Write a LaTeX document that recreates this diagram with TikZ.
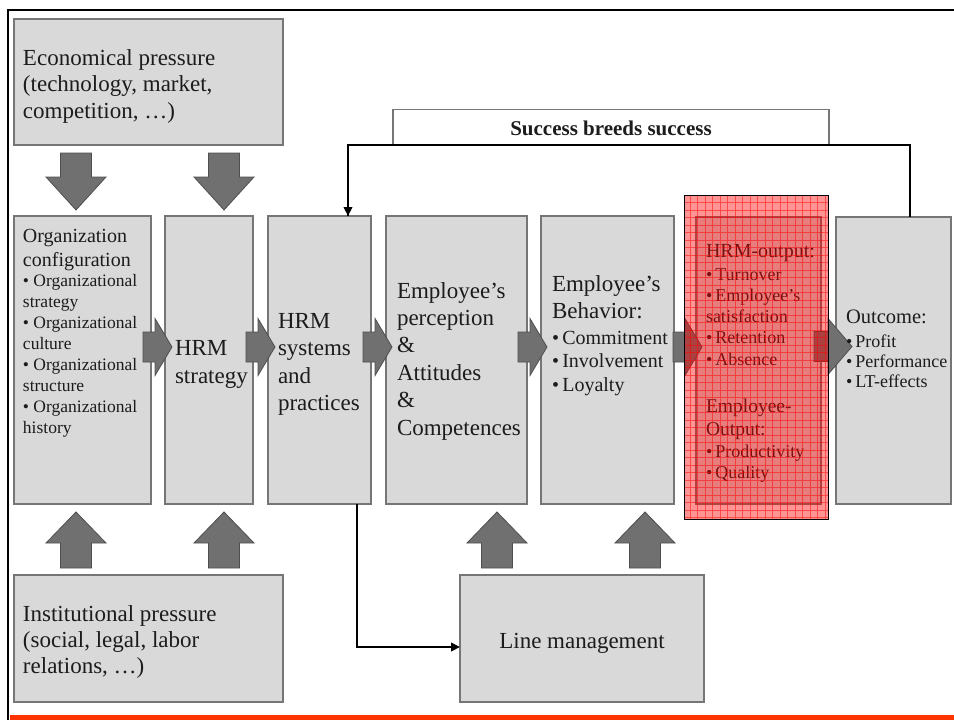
\documentclass[tikz,border=0pt]{standalone}
\usepackage{fontspec}
\setmainfont{Liberation Serif}
\usetikzlibrary{arrows.meta}
\definecolor{boxfill}{RGB}{217,217,217}
\definecolor{boxline}{RGB}{118,118,118}
\definecolor{arrfill}{RGB}{112,112,112}
\definecolor{arrline}{RGB}{78,78,78}
\definecolor{txt}{RGB}{28,28,28}
\definecolor{barorange}{RGB}{255,51,0}
\tikzset{
  rarr/.pic={\path[blk] (0,-15) -- (12,-15) -- (12,-28.5) -- (29,0) -- (12,28.5) -- (12,15) -- (0,15) -- cycle;},
  rarrb/.pic={\path[blk] (0,-15) -- (14,-15) -- (14,-28) -- (38,0) -- (14,28) -- (14,15) -- (0,15) -- cycle;},
  darr/.pic={\path[blk] (-15.5,0) -- (15.5,0) -- (15.5,24) -- (30,24) -- (0,57) -- (-30,24) -- (-15.5,24) -- cycle;},
  uarr/.pic={\path[blk] (-15.5,0) -- (15.5,0) -- (15.5,-25) -- (30,-25) -- (0,-56) -- (-30,-25) -- (-15.5,-25) -- cycle;}
}
\begin{document}
\begin{tikzpicture}[x=1pt,y=-1pt,
  box/.style={draw=boxline, fill=boxfill, line width=1.5pt, inner sep=0pt, outer sep=0pt},
  blk/.style={draw=arrline, fill=arrfill, line width=0.8pt, line join=miter},
  conn/.style={line width=2.8pt, black},
  tx/.style={inner sep=0pt, outer sep=0pt, align=left, text=txt, anchor=base west},
  fbig/.style={font=\fontsize{23}{27.4}\selectfont},
]
\useasboundingbox (0,0) rectangle (954,720);
% frame
\draw[black, line width=2.5pt] (8,720) -- (8,10) -- (954,10);
\fill[barorange] (10,715) rectangle (954,720);

% boxes
\node[box, minimum width=269, minimum height=126] (econ) at (148.5,82) {};
\node[box, minimum width=137, minimum height=288] (org) at (82.5,360) {};
\node[box, minimum width=88, minimum height=288] (hrms) at (209,360) {};
\node[box, minimum width=103, minimum height=288] (sys) at (319.5,360) {};
\node[box, minimum width=141, minimum height=288] (perc) at (456.5,360) {};
\node[box, minimum width=133, minimum height=288] (behav) at (607.5,360) {};
\node[box, minimum width=125, minimum height=287] (hout) at (758.5,360.5) {};
\node[box, minimum width=115, minimum height=287] (outc) at (893.5,360.5) {};
\node[box, minimum width=269, minimum height=127] (inst) at (148.5,638.5) {};
\node[box, minimum width=244, minimum height=127] (line) at (582,638.5) {};

% connectors
\draw[conn] ([xshift=16.5pt]outc.north) |- (611,145) coordinate (fbmid) -| ([xshift=28.5pt]sys.north);
\draw[conn, -{Triangle[length=9pt,width=8.5pt]}] ([xshift=28.5pt]sys.north |- fbmid) -- ([xshift=28.5pt]sys.north);
\draw[conn, -{Triangle[length=9pt,width=8.5pt]}] ([xshift=37.5pt]sys.south) |- ([yshift=-8.5pt]line.west);

% success label box (open at bottom)
\node[fill=white, minimum width=436, minimum height=34, inner sep=0pt, outer sep=0pt] (sbs) at (611,126.5) {};
\draw[boxline, line width=1.5pt] (sbs.south west) |- (sbs.north east) -- (sbs.south east);
\node[inner sep=0pt, anchor=base, text=txt, font=\fontsize{21}{25}\selectfont\bfseries] (sbsT) at (611,135) {Success breeds success};

% block arrows
\pic at (76,153) {darr};
\pic at (224,153) {darr};
\pic at (76,568) {uarr};
\pic at (224,568) {uarr};
\pic at (497,568) {uarr};
\pic at (645,568) {uarr};
\pic at (143,347) {rarr};
\pic at (246,347) {rarr};
\pic at (363,347) {rarr};
\pic at (518,347) {rarr};
\pic at (673,347) {rarr};
\pic at (814,346.5) {rarrb};

% texts (base anchor = baseline of the last line)
\node[tx, font=\fontsize{23}{26.5}\selectfont] (econT) at (23,118) {Economical pressure\\(technology, market,\\competition, …)};
\node[tx, font=\fontsize{20}{24}\selectfont] (orgT1) at (23,266) {Organization\\configuration};
\node[tx, font=\fontsize{17.5}{21}\selectfont] (orgT2) at (23,433) {• Organizational\\strategy\\• Organizational\\culture\\• Organizational\\structure\\• Organizational\\history};
\node[tx, font=\fontsize{23}{28}\selectfont] (hrmsT) at (175,383) {HRM\\strategy};
\node[tx, font=\fontsize{23}{27.5}\selectfont] (sysT) at (278,410.5) {HRM\\systems\\and\\practices};
\node[tx, fbig] (percT) at (397,435) {Employee’s\\perception\\\&\\Attitudes\\\&\\Competences};
\node[tx, font=\fontsize{23}{27}\selectfont] (behavT1) at (552,318) {Employee’s\\Behavior:};
\node[tx, font=\fontsize{20}{23.5}\selectfont] (behavT2) at (552,391) {•\,Commitment\\•\,Involvement\\•\,Loyalty};
\node[tx, font=\fontsize{20}{22}\selectfont] (houtT1) at (706,257) {HRM-output:};
\node[tx, font=\fontsize{18}{21.25}\selectfont] (houtT2) at (706,365) {•\,Turnover\\•\,Employee’s\\satisfaction\\•\,Retention\\•\,Absence};
\node[tx, font=\fontsize{19.5}{23}\selectfont] (houtT3) at (706,435) {Employee-\\Output:};
\node[tx, font=\fontsize{18}{21}\selectfont] (houtT4) at (706,478) {•\,Productivity\\•\,Quality};
\node[tx, font=\fontsize{20.5}{24}\selectfont] (outcT1) at (846,323) {Outcome:};
\node[tx, font=\fontsize{18}{20}\selectfont] (outcT2) at (846,387) {•\,Profit\\•\,Performance\\•\,LT-effects};
\node[tx, font=\fontsize{23}{26}\selectfont] (instT) at (23,673) {Institutional pressure\\(social, legal, labor\\relations, …)};
\node[inner sep=0pt, anchor=base, text=txt, font=\fontsize{23}{27}\selectfont] (lineT) at (582,648) {Line management};

% red highlight overlay
\fill[red, fill opacity=0.42] (684,195) rectangle (828,519);
\draw[red, opacity=0.5, line width=0.6pt, step=7.5pt] (684,195) grid (828,519);
\draw[black, line width=0.8pt] (684,195) rectangle (828,519);
\end{tikzpicture}
\end{document}
